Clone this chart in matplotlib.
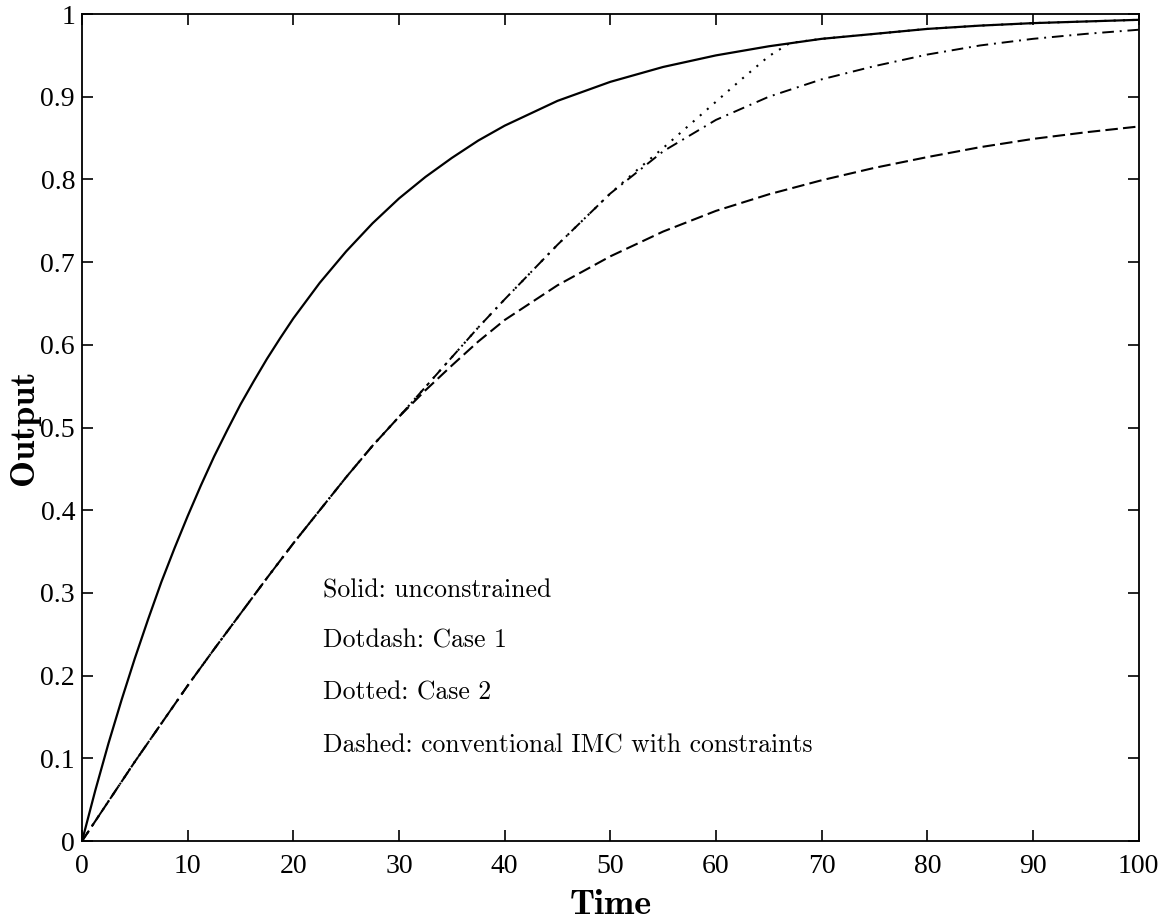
import matplotlib
matplotlib.use("Agg")
import matplotlib.pyplot as plt

# time grid
t = [0, 2.5, 5, 7.5, 10, 12.5, 15, 17.5, 20, 22.5, 25, 27.5, 30, 32.5, 35,
     37.5, 40, 45, 50, 55, 60, 65, 70, 75, 80, 85, 90, 95, 100]

# Solid: unconstrained (finer grid where it bends most)
t_solid = [0, 1.25, 2.5, 3.75, 5, 6.25, 7.5, 8.75, 10, 11.25, 12.5, 13.75, 15,
           16.25, 17.5, 18.75, 20, 22.5, 25, 27.5, 30, 32.5, 35, 37.5, 40, 45,
           50, 55, 60, 65, 70, 75, 80, 85, 90, 95, 100]
y_solid = [0, 0.061, 0.118, 0.171, 0.221, 0.268, 0.313, 0.354, 0.393, 0.430,
           0.465, 0.497, 0.528, 0.556, 0.583, 0.608, 0.632, 0.675, 0.713,
           0.747, 0.777, 0.803, 0.826, 0.847, 0.865, 0.895, 0.918, 0.936,
           0.950, 0.961, 0.970, 0.976, 0.982, 0.986, 0.989, 0.991, 0.993]

# Dotdash: Case 1
y_case1 = [0, 0.048, 0.096, 0.142, 0.188, 0.232, 0.275, 0.318, 0.360, 0.400,
           0.440, 0.478, 0.513, 0.549, 0.585, 0.621, 0.655, 0.721, 0.783,
           0.834, 0.872, 0.900, 0.921, 0.937, 0.951, 0.962, 0.970, 0.976, 0.981]

# Dashed: conventional IMC with constraints
y_imc = [0, 0.048, 0.096, 0.142, 0.188, 0.232, 0.275, 0.318, 0.360, 0.400,
         0.440, 0.478, 0.513, 0.545, 0.575, 0.604, 0.630, 0.672, 0.707,
         0.737, 0.762, 0.782, 0.799, 0.814, 0.827, 0.839, 0.849, 0.857, 0.864]

# Dotted: Case 2
t_case2 = [0, 2.5, 5, 7.5, 10, 12.5, 15, 17.5, 20, 22.5, 25, 27.5, 30, 32.5,
           35, 37.5, 40, 45, 50, 52.5, 55, 57.5, 60, 62.5, 65, 67, 70, 75, 80,
           85, 90, 95, 100]
y_case2 = [0, 0.048, 0.096, 0.142, 0.188, 0.232, 0.275, 0.318, 0.360, 0.400,
           0.440, 0.478, 0.513, 0.549, 0.585, 0.621, 0.655, 0.721, 0.783,
           0.811, 0.838, 0.866, 0.894, 0.922, 0.949, 0.965, 0.970, 0.976,
           0.982, 0.986, 0.989, 0.991, 0.993]

x_ticks = [0, 10, 20, 30, 40, 50, 60, 70, 80, 90, 100]
y_ticks = [0, 0.1, 0.2, 0.3, 0.4, 0.5, 0.6, 0.7, 0.8, 0.9, 1]
y_ticklabels = ["0", "0.1", "0.2", "0.3", "0.4", "0.5", "0.6", "0.7", "0.8", "0.9", "1"]

notes = ["Solid: unconstrained", "Dotdash: Case 1", "Dotted: Case 2",
         "Dashed: conventional IMC with constraints"]

fig = plt.figure(figsize=(11.72, 9.23), dpi=100)
ax = fig.add_axes([0.0700, 0.0888, 0.9015, 0.8960])

ax.plot(t_solid, y_solid, color="black", lw=1.6, linestyle="-")
ax.plot(t, y_case1, color="black", lw=1.4, linestyle=(0, (6, 3, 1, 3)))
ax.plot(t_case2, y_case2, color="black", lw=1.5, linestyle=(0, (1, 3.5)))
ax.plot(t, y_imc, color="black", lw=1.5, linestyle=(0, (6, 2.5)))

ax.set_xlim(0, 100)
ax.set_ylim(0, 1)
ax.set_xticks(x_ticks)
ax.set_xticklabels([str(v) for v in x_ticks])
ax.set_yticks(y_ticks)
ax.set_yticklabels(y_ticklabels)
for lab in ax.get_xticklabels() + ax.get_yticklabels():
    lab.set_fontfamily("Liberation Serif")
    lab.set_fontsize(20)
ax.tick_params(axis="both", direction="in", length=8, width=1.2,
               top=True, right=True)
ax.tick_params(axis="x", pad=9)
ax.tick_params(axis="y", pad=5)
for sp in ax.spines.values():
    sp.set_linewidth(1.3)

ax.set_xlabel("Time", fontfamily="cmb10", fontsize=26, labelpad=8)
ax.set_ylabel("Output", fontfamily="cmb10", fontsize=26, labelpad=0)

note_y = [0.295, 0.234, 0.171, 0.107]
for s, yy in zip(notes, note_y):
    ax.text(22.8, yy, s, fontfamily="cmr10", fontsize=18.5, va="baseline", ha="left")

fig.savefig("out.png", dpi=100)
